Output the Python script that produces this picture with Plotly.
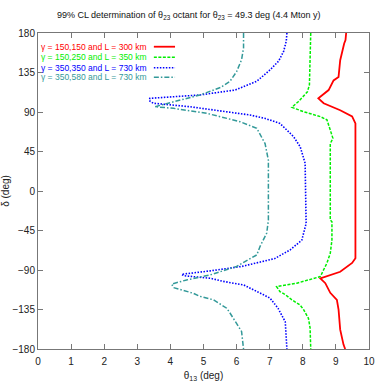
import plotly.graph_objects as go

# ---- data ----
red_delta = [180, 172, 168, 149, 130, 126, 115, 105.6, 100, 92, 85, 77, 40, 0, -40, -76.6, -82, -92, -99.5,
             -105, -116, -124, -135, -158, -175, -180]
red_theta = [9.31, 9.29, 9.25, 9.13, 9.08, 8.93, 8.78, 8.47, 8.63, 9.13, 9.49, 9.59, 9.59, 9.59, 9.59, 9.59, 9.49,
             9.13, 8.53, 8.68, 8.83, 9.03, 9.08, 9.13, 9.23, 9.28]

green_delta = [180, 121, 113, 102, 95.3, 90.4, 84.7, 81, 69.5, 60, 54, -33, -35, -56, -71, -82, -97.5, -105,
               -109, -114.6, -118, -124, -130, -135, -145, -156, -180]
green_theta = [8.24, 8.20, 8.14, 7.87, 7.67, 8.02, 8.53, 8.73, 8.83, 8.91, 8.83, 8.83, 8.88, 8.88, 8.83, 8.73,
               8.53, 7.82, 7.21, 7.31, 7.47, 7.67, 7.92, 8.02, 8.17, 8.22, 8.24]

blue_delta = [180, 170.5, 159, 148, 138, 125, 118, 115, 109.4, 105.6, 103, 100, 96, 90.4, 86.6, 82.8, 77, 62,
              50.5, 31.6, -14, -37, -56, -67, -77, -86, -91, -94.9, -96.5, -99.4, -103, -107, -118, -122,
              -133.5, -149, -180]
blue_theta = [7.52, 7.50, 7.42, 7.27, 7.01, 6.61, 6.15, 5.95, 4.89, 3.38, 3.36, 3.48, 4.59, 5.60, 6.40, 6.85,
              7.31, 7.72, 7.92, 8.07, 8.10, 8.10, 7.97, 7.62, 7.15, 6.15, 5.20, 4.34, 4.40, 5.20, 5.60, 6.21,
              6.80, 7.01, 7.25, 7.47, 7.52]

teal_delta = [180, 163, 149.6, 136, 125, 118, 109.4, 101.8, 96, 94.2, 88.5, 84.7, 79, 71.5, 54, 35, -33, -48,
              -63, -72.8, -86, -95.6, -101.3, -106, -110, -116.5, -120, -124, -133.5, -139, -150.6, -160, -180]
teal_theta = [6.21, 6.21, 6.15, 6.00, 5.80, 5.52, 4.89, 4.09, 3.53, 4.09, 5.10, 5.50, 6.10, 6.61, 6.86, 6.96,
              6.96, 6.91, 6.71, 6.61, 6.00, 5.20, 4.49, 4.04, 4.09, 4.69, 4.89, 5.30, 5.70, 5.80, 6.00, 6.15, 6.21]

series_names = ["γ = 150,150 and L = 300 km", "γ = 150,250 and L = 350 km",
                "γ = 350,350 and L = 730 km", "γ = 350,580 and L = 730 km"]
x_ticks = [0, 1, 2, 3, 4, 5, 6, 7, 8, 9, 10]
y_ticks = [-180, -135, -90, -45, 0, 45, 90, 135, 180]

colors = ["#ff0000", "#00ee00", "#0000ff", "#339999"]
dashes = ["solid", "3px,1.5px", "1.5px,1.5px", "5px,2px,1.5px,2px"]
widths = [1.8, 1.5, 1.6, 1.5]

FONT = "Liberation Sans, Arial, sans-serif"

fig = go.Figure()
data = [(red_theta, red_delta), (green_theta, green_delta), (blue_theta, blue_delta), (teal_theta, teal_delta)]
for (xs, ys), name, c, d, w in zip(data, series_names, colors, dashes, widths):
    fig.add_trace(go.Scatter(x=xs, y=ys, mode="lines", name=name,
                             line=dict(color=c, dash=d, width=w), showlegend=False))

# legend drawn as text with sample line on the right (gnuplot style)
leg_y = [0.9566, 0.9231, 0.8902, 0.8598]
for name, c, d, w, yy in zip(series_names, colors, dashes, widths, leg_y):
    fig.add_annotation(xref="paper", yref="paper", x=0.332, y=yy, text=name, showarrow=False,
                       xanchor="right", yanchor="middle", borderpad=0,
                       font=dict(family=FONT, size=8.5, color=c))
    fig.add_shape(type="line", xref="paper", yref="paper", x0=0.350, x1=0.414, y0=yy, y1=yy,
                  line=dict(color=c, dash=d, width=w))

axis_common = dict(showline=True, linecolor="#777", linewidth=1, mirror="ticks", ticks="inside",
                   ticklen=5, tickcolor="#777", showgrid=False, zeroline=False, automargin=False,
                   tickfont=dict(family=FONT, size=10, color="#222"))

fig.update_layout(
    width=382, height=382,
    margin=dict(l=38, r=13, t=33, b=33),
    paper_bgcolor="white", plot_bgcolor="white",
    title=dict(text="99% CL determination of θ<sub>23</sub> octant for θ<sub>23</sub> = 49.3 deg (4.4 Mton y)",
               x=0.494, xanchor="center", y=0.962, yanchor="middle",
               font=dict(family=FONT, size=9, color="#111")),
    xaxis=dict(range=[0, 10], tickvals=x_ticks, ticklabelstandoff=3,
               title=dict(text="θ<sub>13</sub> (deg)", font=dict(family=FONT, size=10, color="#222"), standoff=9),
               **axis_common),
    yaxis=dict(range=[-180, 180], tickvals=y_ticks,
               title=dict(text="δ (deg)", font=dict(family=FONT, size=10, color="#222"), standoff=6),
               **axis_common),
)

fig.write_html("out.html", config={"displayModeBar": False},
               post_script="document.body.style.margin='0';document.body.style.overflow='hidden';")
